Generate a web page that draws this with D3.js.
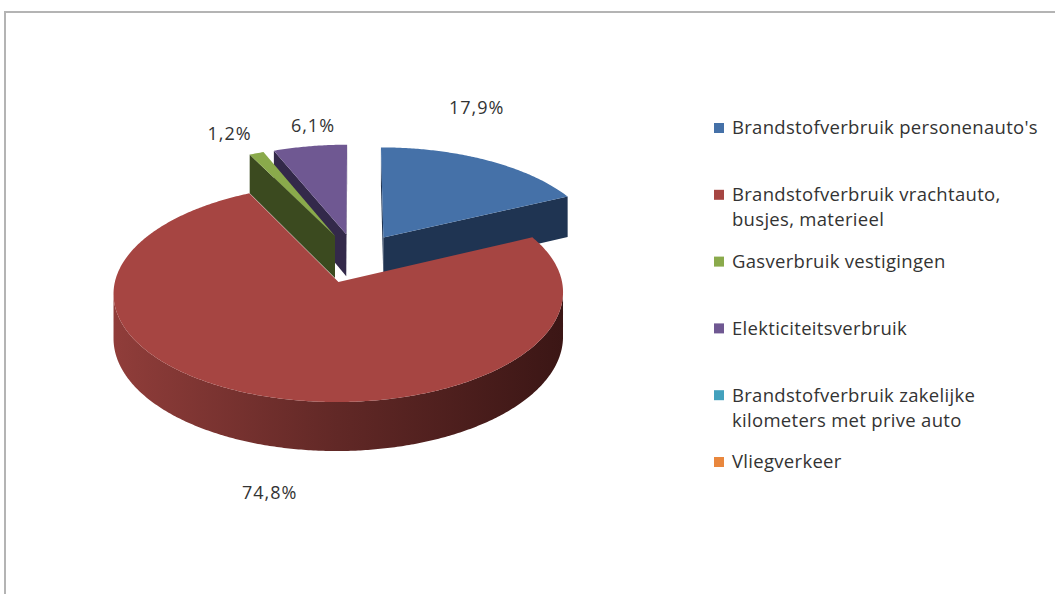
<!DOCTYPE html>
<html>
<head>
<meta charset="utf-8">
<script src="https://cdn.jsdelivr.net/npm/d3@7"></script>
<style>
  body { margin: 0; background: #fff; }
  text { font-family: "Open Sans", sans-serif; fill: #333; }
</style>
</head>
<body>
<script>
// data
const categories = [
  "Brandstofverbruik personenauto's",
  "Brandstofverbruik vrachtauto, busjes, materieel",
  "Gasverbruik vestigingen",
  "Elekticiteitsverbruik",
  "Brandstofverbruik zakelijke kilometers met prive auto",
  "Vliegverkeer"
];
const values = [17.9, 74.8, 1.2, 6.1, 0, 0];

// colours: top face, side face, radial cut face
const topColors = ["#4571a8", "#a64542", "#8aaa4b", "#6f5892", "#43a1bd", "#e9873d"];
const sideColors = [["#2c4a70", "#1c2f4a"], ["#903d3a", "#3b1615"], ["#4a5c24", "#2e3a15"], ["#3f3257", "#2a2140"], ["#2a6f83", "#1b4a58"], ["#a55e28", "#6e3e1a"]];
const cutColors = ["#1f3452", "#5a2321", "#3b4a1f", "#33294a", "#1b4a58", "#6e3e1a"];
const labelNudge = [[-10, -53], [14, 49], [-27, -20], [3, -21], [0, 0], [0, 0]];

const w = 1055, h = 594;
const cx = 356, cy = 258, R = 218.5, A = 103, K = 0.1, explode = 0.24, depth = 43;
const cam = [0, -1 / K];

const svg = d3.select('body')
  .append('svg')
  .attr('width', w)
  .attr('height', h);

// frame
svg.append('path')
  .attr('d', `M5,${h} L5,12 L${w},12`)
  .attr('fill', 'none')
  .attr('stroke', '#b4b4b4')
  .attr('stroke-width', 2);

// perspective projection of a point on the pie disc (u right, v back, z 0 top / 1 bottom)
function proj(u, v, z) {
  const s = 1 / (1 + K * v);
  return [cx + R * u * s, cy - (A * v - depth * z) * s];
}

const fmt = d3.formatLocale({ decimal: ",", thousands: ".", grouping: [3], currency: ["€", ""] }).format(".1f");
const line = d3.line();

const arcs = d3.pie().sort(null).value(d => d)(values);
let slices = arcs.filter(a => a.value > 0).map(a => {
  const mid = (a.startAngle + a.endAngle) / 2;
  return Object.assign({}, a, { mid, cu: explode * Math.sin(mid), cv: explode * Math.cos(mid) });
});
slices.sort((p, q) => q.cv - p.cv); // back to front

const defs = svg.append('defs');
const pieG = svg.append('g');

slices.forEach(sl => {
  const i = sl.index;
  const rim = (a, z) => proj(sl.cu + Math.sin(a), sl.cv + Math.cos(a), z);
  const apex = z => proj(sl.cu, sl.cv, z);
  const g = pieG.append('g');

  // radial cut faces
  const faces = [
    { a: sl.startAngle, n: [-Math.cos(sl.startAngle), Math.sin(sl.startAngle)] },
    { a: sl.endAngle, n: [Math.cos(sl.endAngle), -Math.sin(sl.endAngle)] }
  ];
  faces.forEach(f => {
    const dot = f.n[0] * (cam[0] - sl.cu) + f.n[1] * (cam[1] - sl.cv);
    if (dot <= 0) return;
    g.append('path')
      .attr('d', line([apex(0), rim(f.a, 0), rim(f.a, 1), apex(1)]) + 'Z')
      .attr('fill', cutColors[i]);
  });

  // outer side, only the part that faces the viewer
  const n = Math.max(8, Math.ceil((sl.endAngle - sl.startAngle) / 0.01));
  const angles = d3.range(n + 1).map(k => sl.startAngle + (sl.endAngle - sl.startAngle) * k / n);
  const vis = angles.filter(a => {
    const px = sl.cu + Math.sin(a), pv = sl.cv + Math.cos(a);
    return Math.sin(a) * (cam[0] - px) + Math.cos(a) * (cam[1] - pv) > 0;
  });
  if (vis.length > 1) {
    const gid = 'side' + i;
    const grad = defs.append('linearGradient').attr('id', gid);
    grad.append('stop').attr('offset', 0).attr('stop-color', sideColors[i][0]);
    grad.append('stop').attr('offset', 0.5).attr('stop-color', d3.interpolateRgb(sideColors[i][0], sideColors[i][1])(0.55));
    grad.append('stop').attr('offset', 1).attr('stop-color', sideColors[i][1]);
    const pts = vis.map(a => rim(a, 0)).concat(vis.slice().reverse().map(a => rim(a, 1)));
    g.append('path')
      .attr('d', line(pts) + 'Z')
      .attr('fill', `url(#${gid})`);
  }

  // top face
  g.append('path')
    .attr('d', line([apex(0)].concat(angles.map(a => rim(a, 0)))) + 'Z')
    .attr('fill', topColors[i]);

  // data label
  const front = Math.cos(sl.mid) < 0 ? 1 : 0;
  const p = rim(sl.mid, front);
  svg.append('text')
    .attr('x', p[0] + labelNudge[i][0])
    .attr('y', p[1] + labelNudge[i][1])
    .attr('dy', '0.35em')
    .attr('text-anchor', 'middle')
    .attr('font-size', '18px')
    .attr('letter-spacing', '1px')
    .text(fmt(sl.value) + '%');
});

// legend
const legendY = d3.scaleLinear().domain([0, categories.length - 1]).range([128, 462]);
const legend = svg.append('g');
const textX = 732, maxW = w - textX - 8;

categories.forEach((c, i) => {
  const y = legendY(i);
  legend.append('rect')
    .attr('x', 714).attr('y', y - 5)
    .attr('width', 10).attr('height', 10)
    .attr('fill', topColors[i]);
  const t = legend.append('text')
    .attr('x', textX).attr('y', y)
    .attr('dy', '0.35em')
    .attr('font-size', '18.5px')
    .attr('letter-spacing', '0.3px');
  // wrap words into lines that fit
  const words = c.split(' ');
  let ts = t.append('tspan').attr('x', textX);
  let cur = [];
  words.forEach(wd => {
    cur.push(wd);
    ts.text(cur.join(' '));
    if (ts.node().getComputedTextLength() > maxW && cur.length > 1) {
      cur.pop();
      ts.text(cur.join(' '));
      cur = [wd];
      ts = t.append('tspan').attr('x', textX).attr('dy', '25px').text(wd);
    }
  });
});
</script>
</body>
</html>
